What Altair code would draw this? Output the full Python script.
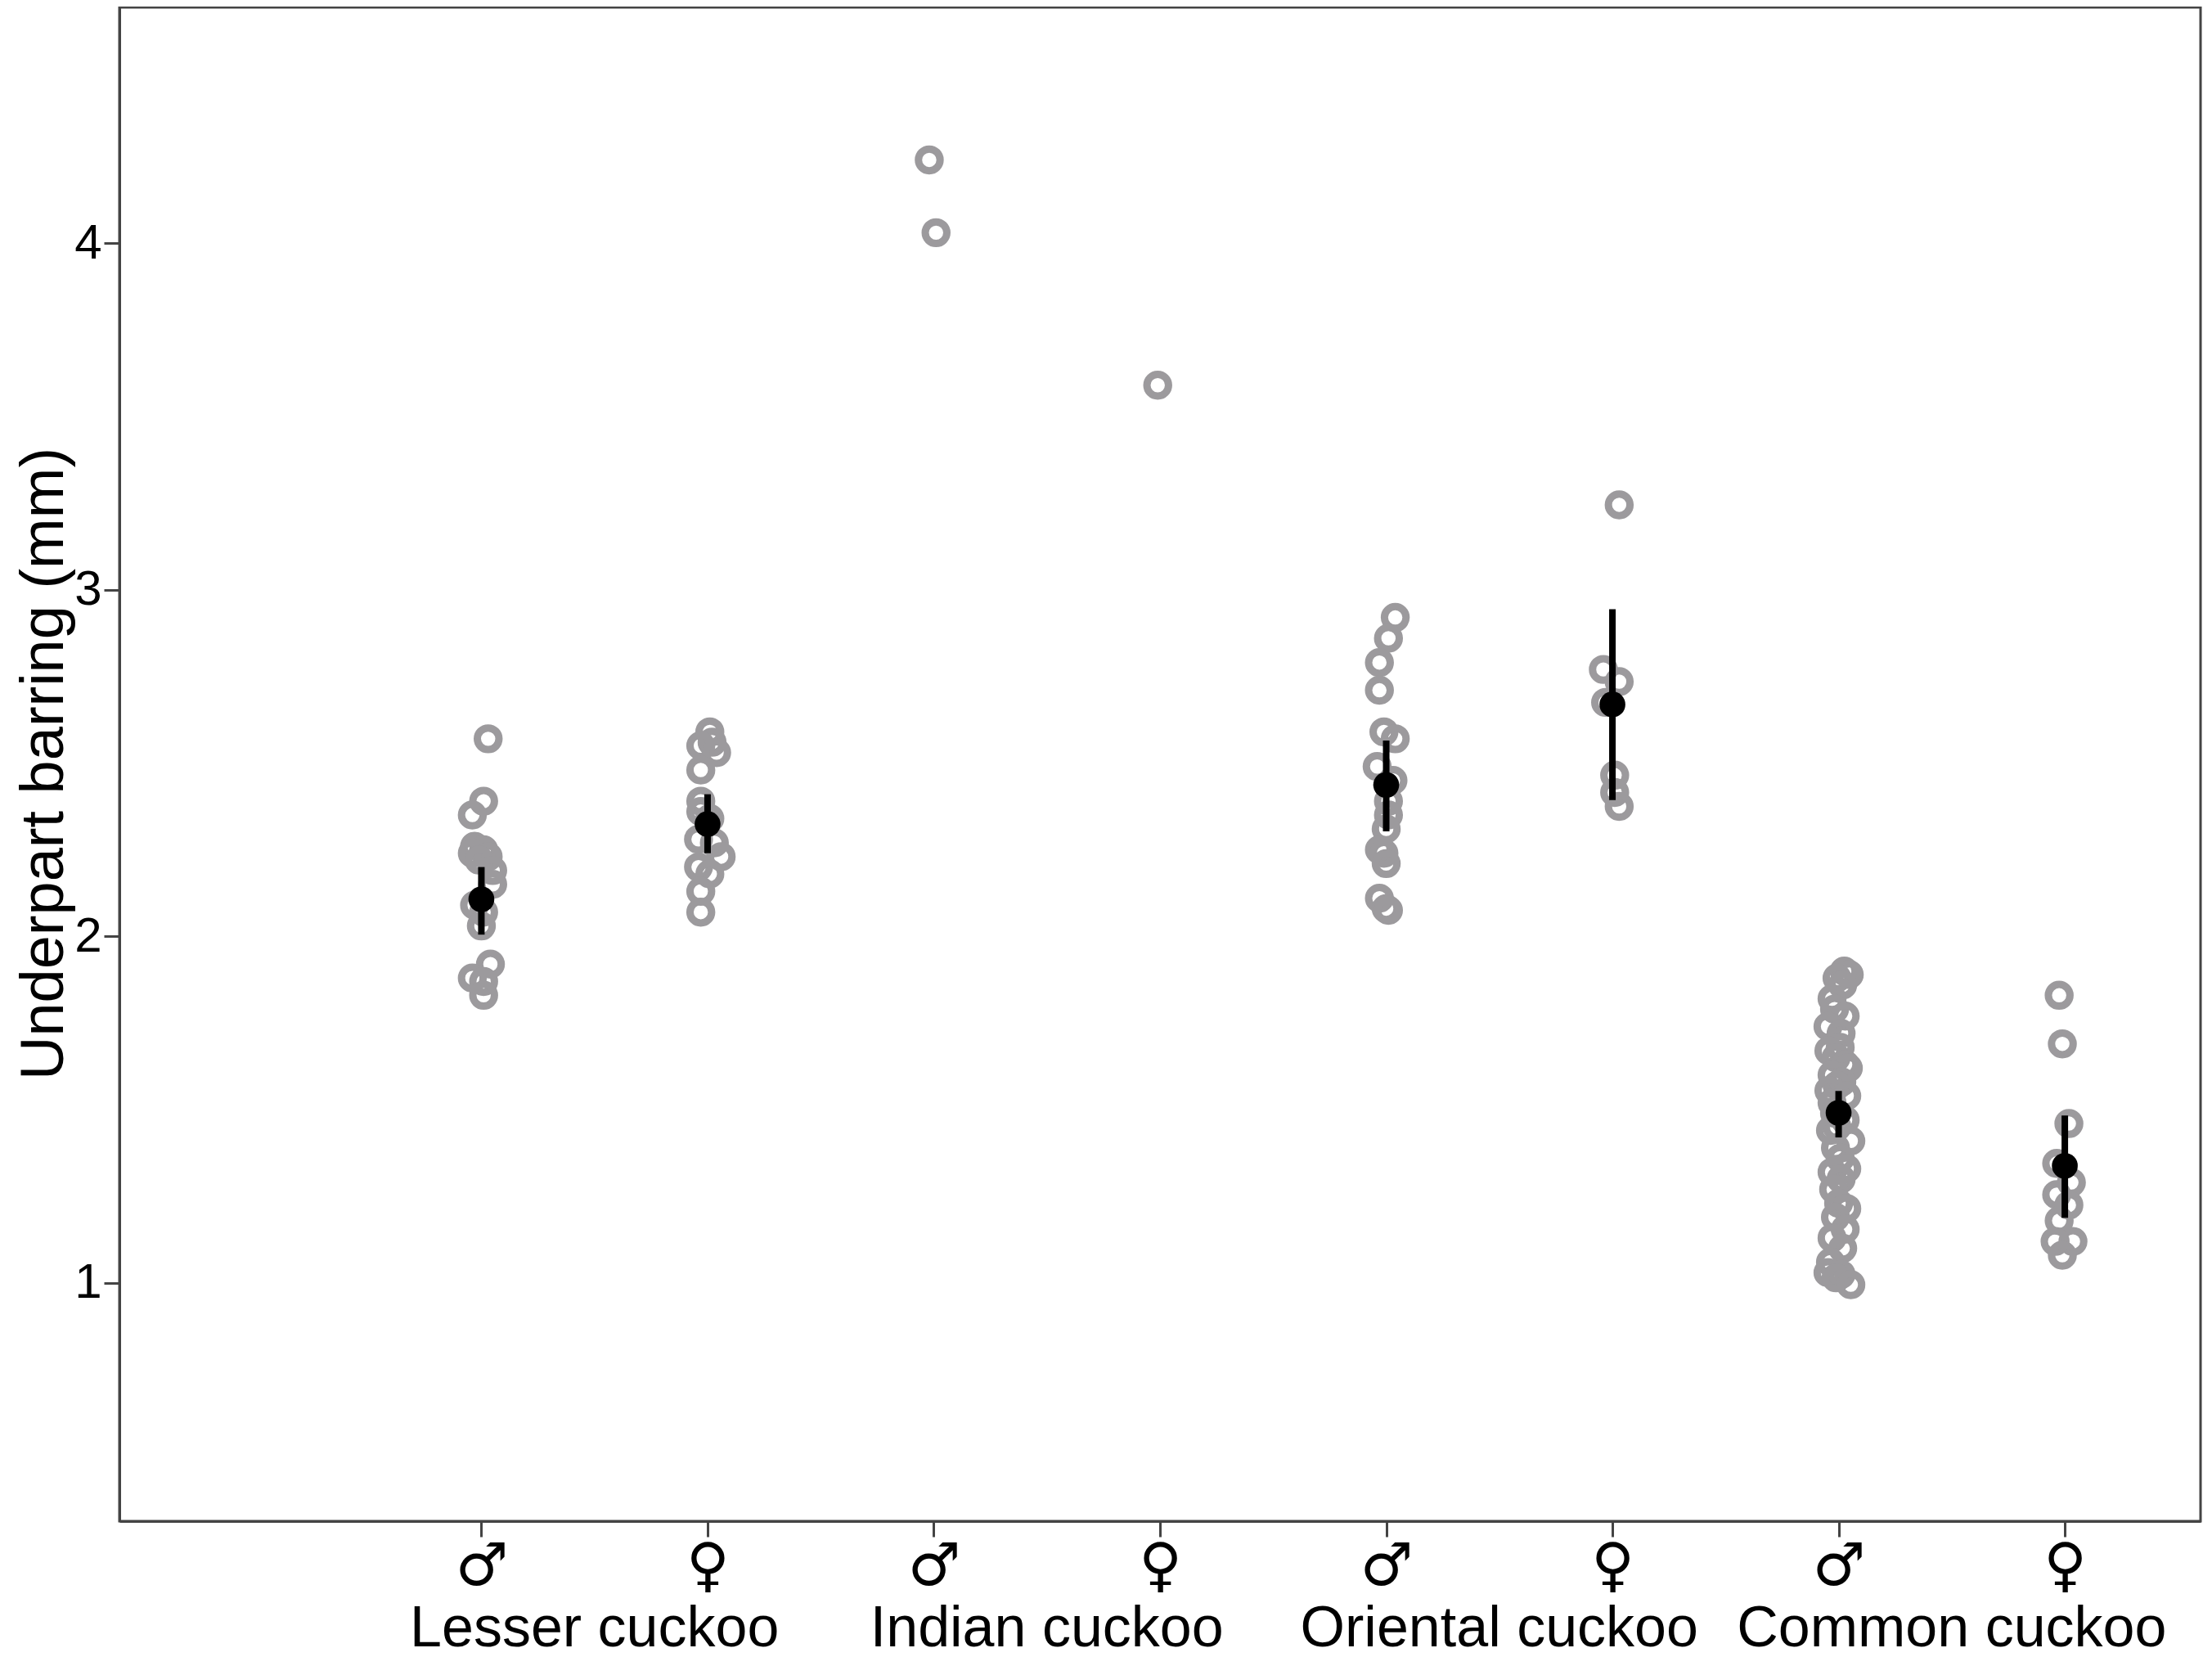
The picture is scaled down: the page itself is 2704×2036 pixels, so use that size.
import altair as alt
import pandas as pd

# ---------------- data ----------------
species = ["Lesser cuckoo", "Indian cuckoo", "Oriental cuckoo", "Common cuckoo"]
sex_symbols = ["♂", "♀"]

# individual measurements (mm) and small horizontal jitter (x units) per group
lesser_m = [2.57, 2.39, 2.35, 2.26, 2.25, 2.24, 2.23, 2.22, 2.19, 2.15, 2.09, 2.07, 2.03, 1.92, 1.88, 1.87, 1.83]
lesser_m_jit = [0.03, 0.01, -0.04, -0.03, 0.01, -0.04, 0.03, -0.01, 0.05, 0.05, -0.03, 0.01, 0.0, 0.04, -0.04, 0.01, 0.01]

lesser_f = [2.59, 2.56, 2.55, 2.53, 2.48, 2.39, 2.36, 2.34, 2.28, 2.27, 2.23, 2.20, 2.18, 2.13, 2.07]
lesser_f_jit = [0.01, 0.02, -0.03, 0.04, -0.03, -0.03, -0.03, 0.01, -0.04, 0.03, 0.06, -0.04, 0.01, -0.03, -0.03]

indian_m = [4.24, 4.03]
indian_m_jit = [-0.02, 0.01]

indian_f = [3.59]
indian_f_jit = [-0.01]

oriental_m = [2.92, 2.86, 2.79, 2.71, 2.59, 2.57, 2.49, 2.45, 2.39, 2.35, 2.31, 2.25, 2.24, 2.21, 2.11, 2.08, 2.075]
oriental_m_jit = [0.04, 0.01, -0.03, -0.03, -0.01, 0.04, -0.04, 0.03, 0.01, 0.01, 0.0, -0.03, -0.01, 0.0, -0.03, 0.0, 0.01]

oriental_f = [3.245, 2.77, 2.735, 2.675, 2.465, 2.415, 2.375]
oriental_f_jit = [0.03, -0.04, 0.03, -0.03, 0.01, 0.01, 0.03]

common_m = [1.90, 1.89, 1.88, 1.86, 1.82, 1.79, 1.77, 1.74, 1.72, 1.68, 1.67, 1.65, 1.63, 1.62,
            1.60, 1.58, 1.57, 1.555, 1.54, 1.52, 1.49, 1.47, 1.45, 1.44, 1.41, 1.39, 1.36, 1.33,
            1.32, 1.30, 1.27, 1.23, 1.215, 1.19, 1.155, 1.13, 1.10, 1.06, 1.03, 1.025, 1.015, 0.995]
common_m_jit = [0.025, 0.047, -0.007, 0.018, -0.029, -0.018, 0.029, -0.047, 0.011, 0.007, -0.043,
                -0.011, 0.029, 0.043, -0.029, 0.014, -0.007, -0.043, 0.036, -0.029, -0.018, 0.029,
                -0.007, -0.036, 0.054, -0.014, 0.007, 0.036, -0.029, 0.011, -0.022, 0.0, 0.036,
                -0.014, 0.029, -0.029, 0.018, -0.036, -0.047, 0.011, -0.011, 0.054]

common_f = [1.83, 1.69, 1.46, 1.345, 1.29, 1.255, 1.225, 1.18, 1.12, 1.12, 1.08]
common_f_jit = [-0.025, -0.011, 0.018, -0.036, 0.029, -0.036, 0.018, -0.025, 0.036, -0.043, -0.011]

groups = [
    (lesser_m, lesser_m_jit), (lesser_f, lesser_f_jit),
    (indian_m, indian_m_jit), (indian_f, indian_f_jit),
    (oriental_m, oriental_m_jit), (oriental_f, oriental_f_jit),
    (common_m, common_m_jit), (common_f, common_f_jit),
]

# group means with error bars
mean_pos = [1, 2, 5, 6, 7, 8]
mean_val = [2.107, 2.324, 2.437, 2.669, 1.491, 1.338]
mean_lo = [2.005, 2.24, 2.303, 2.393, 1.42, 1.188]
mean_hi = [2.20, 2.41, 2.565, 2.944, 1.554, 1.483]

# ---------------- tables ----------------
rows = []
for gi, (vals, jit) in enumerate(groups):
    pos = gi + 1
    for v, j in zip(vals, jit):
        rows.append({"x": pos + j, "value": v})
pts = pd.DataFrame(rows)

means = pd.DataFrame({"x": mean_pos, "mean": mean_val, "lo": mean_lo, "hi": mean_hi})

labels = pd.DataFrame({"x": [2 * i + 1.5 for i in range(len(species))], "name": species})

# ---------------- chart ----------------
W, H = 2544, 1850
FONT = "Liberation Sans"

xscale = alt.Scale(domain=[-0.6, 8.6], nice=False, zero=False)
yscale = alt.Scale(domain=[0.313, 4.68], nice=False, zero=False)

sym_expr = "datum.value % 2 == 1 ? '" + sex_symbols[0] + "' : '" + sex_symbols[1] + "'"

xaxis = alt.Axis(
    values=[1, 2, 3, 4, 5, 6, 7, 8],
    labelExpr=sym_expr,
    title="", grid=False,
    tickSize=19, tickWidth=3, tickColor="#444444",
    domainColor="#444444", domainWidth=3,
    labelFontSize=72, labelColor="black", labelPadding=1,
    labelBaseline="top", labelFont="DejaVu Sans",
)
yaxis = alt.Axis(
    values=[1, 2, 3, 4], format="d",
    title="Underpart barring (mm)", grid=False,
    tickSize=19, tickWidth=3, tickColor="#444444",
    domainColor="#444444", domainWidth=3,
    labelFontSize=60, labelColor="black", labelPadding=3, labelFont=FONT,
    titleFontSize=74, titleFontWeight="normal", titleColor="black", titleFont=FONT,
    titleAngle=270, titleX=-70, titleY=924, titleAlign="center", titleBaseline="alphabetic",
)

points = alt.Chart(pts).mark_point(
    shape="circle", filled=False, stroke="#9c9a9d", strokeWidth=9, size=700, opacity=1
).encode(
    x=alt.X("x:Q", scale=xscale, axis=xaxis),
    y=alt.Y("value:Q", scale=yscale, axis=yaxis),
)

bars = alt.Chart(means).mark_rule(color="black", strokeWidth=8).encode(
    x=alt.X("x:Q", scale=xscale),
    y=alt.Y("lo:Q", scale=yscale),
    y2="hi:Q",
)

dots = alt.Chart(means).mark_circle(color="black", size=1000, opacity=1).encode(
    x=alt.X("x:Q", scale=xscale),
    y=alt.Y("mean:Q", scale=yscale),
)

names = alt.Chart(labels).mark_text(
    fontSize=70, font=FONT, color="black", align="center", baseline="alphabetic"
).encode(
    x=alt.X("x:Q", scale=xscale),
    y=alt.value(2003),
    text="name:N",
)

chart = alt.layer(points, bars, dots, names).properties(
    width=W, height=H,
    autosize=alt.AutoSizeParams(type="none"),
    padding={"left": 138, "top": 1, "right": 6, "bottom": 169},
).configure(font=FONT).configure_view(stroke="#444444", strokeWidth=3)

chart.save("out.html", embed_options={"renderer": "svg", "actions": False})
